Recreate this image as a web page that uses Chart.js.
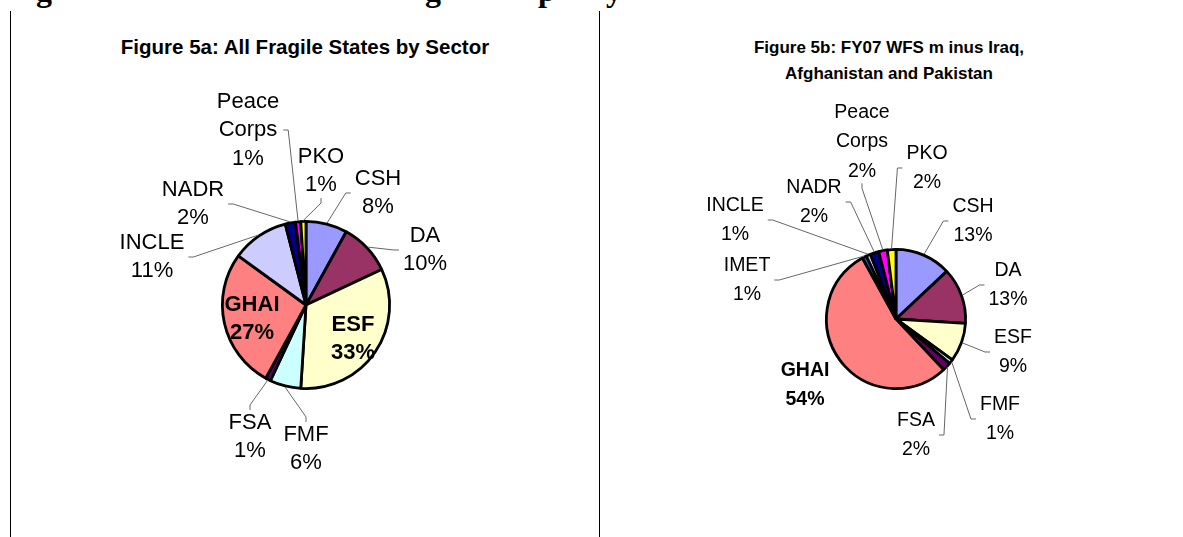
<!DOCTYPE html>
<html>
<head>
<meta charset="utf-8">
<script src="https://cdn.jsdelivr.net/npm/chart.js@4.4.1/dist/chart.umd.min.js"></script>
<style>
  body { margin:0; background:#fff; width:1183px; height:537px; overflow:hidden; position:relative; font-family:"Liberation Sans", Arial, sans-serif; }
  .rule { position:absolute; top:11px; bottom:0; width:1px; background:#000; }
  .head { position:absolute; left:0; top:0; width:1183px; height:12px; overflow:hidden; }
  .head span { position:absolute; top:-26px; font:bold 32px "Liberation Serif", "Times New Roman", serif; line-height:32px; color:#000; }
  .title { position:absolute; font-weight:bold; text-align:center; color:#000; }
  canvas { position:absolute; top:0; }
</style>
</head>
<body>
<div class="head">
  <span style="left:36px">g</span>
  <span style="left:425px">g</span>
  <span style="left:538px">p</span>
  <span style="left:606px">y</span>
</div>
<div class="rule" style="left:10px"></div>
<div class="rule" style="left:599px"></div>

<div class="title" style="left:10px;width:590px;top:35px;font-size:20.5px;line-height:24px">Figure 5a: All Fragile States by Sector</div>
<div class="title" style="left:600px;width:578px;top:35px;font-size:17px;line-height:26px">Figure 5b: FY07 WFS m inus Iraq,<br>Afghanistan and Pakistan</div>

<canvas id="chart1" width="600" height="537" style="left:0"></canvas>
<canvas id="chart2" width="583" height="537" style="left:600px"></canvas>

<script>
// data
var leftLabels  = ['CSH', 'DA', 'ESF', 'FMF', 'FSA', 'GHAI', 'INCLE', 'NADR', 'Peace Corps', 'PKO'];
var leftValues  = [8, 10, 33, 6, 1, 27, 11, 2, 1, 1];

var rightLabels = ['CSH', 'DA', 'ESF', 'FMF', 'FSA', 'GHAI', 'IMET', 'INCLE', 'NADR', 'Peace Corps', 'PKO'];
var rightValues = [13, 13, 9, 1, 2, 54, 1, 1, 2, 2, 2];

// excel default palette, by sector
var sectorColors = {
  'CSH': '#9999FF',
  'DA': '#993366',
  'ESF': '#FFFFCC',
  'FMF': '#CCFFFF',
  'FSA': '#660066',
  'GHAI': '#FF8080',
  'IMET': '#0066CC',
  'INCLE': '#CCCCFF',
  'NADR': '#000080',
  'Peace Corps': '#FF00FF',
  'PKO': '#FFFF00'
};

// where each data label sits, offset from the pie centre (px); bold ones have no leader
var leftLabelPos = {
  'CSH': [72, -112],
  'DA': [119, -55],
  'ESF': [47, 34, true],
  'FMF': [0, 144],
  'FSA': [-56, 132],
  'GHAI': [-54, 14, true],
  'INCLE': [-154, -48],
  'NADR': [-113, -101],
  'Peace Corps': [-58, -175],
  'PKO': [15, -134]
};
var rightLabelPos = {
  'CSH': [77, -98],
  'DA': [112, -34],
  'ESF': [117, 33],
  'FMF': [104, 100],
  'FSA': [20, 116],
  'GHAI': [-91, 66, true],
  'IMET': [-149, -39],
  'INCLE': [-161, -99],
  'NADR': [-82, -117],
  'Peace Corps': [-34, -177],
  'PKO': [31, -151]
};

var pieLabels = {
  id: 'pieLabels',
  afterDatasetsDraw: function(chart, args, opts) {
    var ctx = chart.ctx;
    var meta = chart.getDatasetMeta(0);
    var values = chart.data.datasets[0].data;
    var total = values.reduce(function(a, b){ return a + b; }, 0);
    ctx.save();
    meta.data.forEach(function(arc, i) {
      var name = chart.data.labels[i];
      var pos = opts.positions[name];
      if (!pos || !values[i]) return;
      var p = arc.getProps(['x', 'y', 'startAngle', 'endAngle', 'outerRadius'], true);
      var mid = (p.startAngle + p.endAngle) / 2;
      var r = p.outerRadius + 1;
      var px = p.x + r * Math.cos(mid), py = p.y + r * Math.sin(mid);

      var lines = name.split(' ');
      lines.push(Math.round(values[i] / total * 100) + '%');
      var bold = pos[2] === true;
      ctx.font = (bold ? 'bold ' : '') + opts.fontSize + 'px "Liberation Sans", Arial, sans-serif';
      var lh = opts.lineHeight;
      var xc = p.x + pos[0], yc = p.y + pos[1];
      var y0 = yc - (lines.length - 1) / 2 * lh;
      var w = 0;
      lines.forEach(function(t){ w = Math.max(w, ctx.measureText(t).width); });
      var left = xc - w / 2, right = xc + w / 2;
      var top = y0 - opts.fontSize * 0.4, bottom = y0 + (lines.length - 1) * lh + opts.fontSize * 0.4;

      if (!bold) {
        var sx, sy, tx, ty;
        if (px < left) { sx = left - 4; sy = yc; tx = sx - 5; ty = sy; }
        else if (px > right) { sx = right + 4; sy = yc; tx = sx + 5; ty = sy; }
        else if (py > bottom) { sx = xc; sy = bottom + 4; tx = sx; ty = sy + 5; }
        else { sx = xc; sy = top - 4; tx = sx; ty = sy - 5; }
        ctx.strokeStyle = '#666';
        ctx.lineWidth = 1;
        ctx.beginPath();
        ctx.moveTo(sx, sy);
        ctx.lineTo(tx, ty);
        ctx.lineTo(px, py);
        ctx.stroke();
      }

      ctx.fillStyle = '#000';
      ctx.textAlign = 'center';
      ctx.textBaseline = 'middle';
      lines.forEach(function(t, k){ ctx.fillText(t, xc, y0 + k * lh); });
    });
    ctx.restore();
  }
};

function makePie(id, labels, values, positions, padding, fontSize, lineHeight) {
  return new Chart(document.getElementById(id), {
    type: 'pie',
    data: {
      labels: labels,
      datasets: [{
        data: values,
        backgroundColor: labels.map(function(l){ return sectorColors[l]; }),
        borderColor: '#000',
        borderWidth: 2.8
      }]
    },
    options: {
      responsive: false,
      animation: false,
      layout: { padding: padding },
      plugins: {
        legend: { display: false },
        tooltip: { enabled: false },
        pieLabels: { positions: positions, fontSize: fontSize, lineHeight: lineHeight }
      }
    },
    plugins: [pieLabels]
  });
}

makePie('chart1', leftLabels, leftValues, leftLabelPos,
  { left: 221, right: 209, top: 220, bottom: 147 }, 22, 28.5);
makePie('chart2', rightLabels, rightValues, rightLabelPos,
  { left: 225, right: 216, top: 248, bottom: 147 }, 19.5, 29.5);
</script>
</body>
</html>
